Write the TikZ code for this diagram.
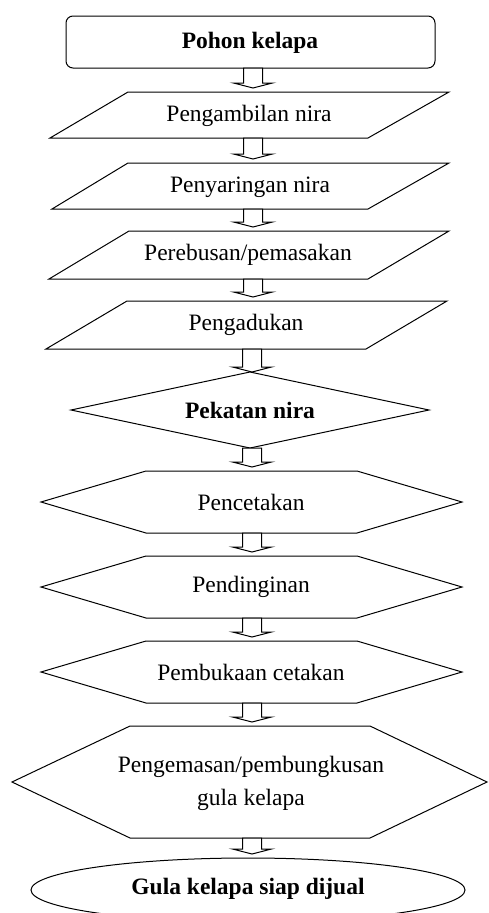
\documentclass[tikz,border=0pt]{standalone}
\usepackage{fontspec}
\setmainfont{Liberation Serif}
\usetikzlibrary{calc}
\tikzset{
  shapeline/.style={draw=black, line width=1pt, line join=miter},
  lbl/.style={font=\fontsize{23.5}{33}\selectfont, align=center, inner sep=0pt},
  blbl/.style={lbl, font=\fontsize{23.5}{33}\selectfont\bfseries},
  blkarrow/.style={draw=black, line width=1pt, fill=white, line join=miter},
}
\newcommand\blkarr[2]{%
  \draw[blkarrow] let \p1=(#1), \p2=(#2) in
    (\x1-9.5pt,\y1) -- (\x1-9.5pt,\y2+9pt) -- (\x1-19.5pt,\y2+9pt) -- (\x1,\y2+4pt)
    -- (\x1+19.5pt,\y2+9pt) -- (\x1+9.5pt,\y2+9pt) -- (\x1+9.5pt,\y1) -- cycle;}
\begin{document}
\begin{tikzpicture}[x=1pt,y=-1pt]
\useasboundingbox (0,0) rectangle (488,913);
\clip (-1,-1) rectangle (489,914);
% start box
\draw[shapeline, rounded corners=7pt] (66,16) rectangle (435,68);
\node[blbl] (n0) at (250,43) {Pohon kelapa};
\coordinate (s0b) at (253,68);
% parallelograms
\draw[shapeline] (128,92) -- (449,92) -- (368,138) -- (50,138) -- cycle;
\node[lbl] (n1) at (249,116) {Pengambilan nira};
\coordinate (s1t) at (253,92); \coordinate (s1b) at (253,138);
\draw[shapeline] (128,163) -- (449,163) -- (368,209) -- (52,209) -- cycle;
\node[lbl] (n2) at (250,187) {Penyaringan nira};
\coordinate (s2t) at (253,163); \coordinate (s2b) at (253,209);
\draw[shapeline] (129,231) -- (449,231) -- (368,279) -- (49,279) -- cycle;
\node[lbl] (n3) at (248,255) {Perebusan/pemasakan};
\coordinate (s3t) at (253,231); \coordinate (s3b) at (253,279);
\draw[shapeline] (127,301) -- (447,301) -- (366,349) -- (46,349) -- cycle;
\node[lbl] (n4) at (246,325) {Pengadukan};
\coordinate (s4t) at (253,301); \coordinate (s4b) at (252,349);
% diamond
\draw[shapeline] (250,372) -- (429,410) -- (250,448) -- (71,410) -- cycle;
\node[blbl] (n5) at (250,410) {Pekatan nira};
\coordinate (s5t) at (252,376); \coordinate (s5b) at (252,448);
% hexagons
\draw[shapeline] (146,471) -- (357,471) -- (462,502) -- (357,533) -- (146,533) -- (41,502) -- cycle;
\node[lbl] (n6) at (251,502) {Pencetakan};
\coordinate (s6t) at (252,471); \coordinate (s6b) at (252,533);
\draw[shapeline] (146,556) -- (357,556) -- (462,587) -- (357,618) -- (146,618) -- (41,587) -- cycle;
\node[lbl] (n7) at (251,587) {Pendinginan};
\coordinate (s7t) at (252,556); \coordinate (s7b) at (252,618);
\draw[shapeline] (146,641) -- (357,641) -- (462,672) -- (357,703) -- (146,703) -- (41,672) -- cycle;
\node[lbl] (n8) at (251,672) {Pembukaan cetakan};
\coordinate (s8t) at (252,641); \coordinate (s8b) at (252,703);
\draw[shapeline] (130,726) -- (370,726) -- (487,782) -- (370,838) -- (130,838) -- (12,782) -- cycle;
\node[lbl] (n9) at (251,783) {Pengemasan/pembungkusan\\gula kelapa};
\coordinate (s9t) at (252,726); \coordinate (s9b) at (252,838);
% ellipse
\draw[shapeline] (248,890) ellipse [x radius=217, y radius=32];
\node[blbl] (n10) at (248,889) {Gula kelapa siap dijual};
\coordinate (s10t) at (252,858);
% arrows
\blkarr{s0b}{s1t}
\blkarr{s1b}{s2t}
\blkarr{s2b}{s3t}
\blkarr{s3b}{s4t}
\blkarr{s4b}{s5t}
\blkarr{s5b}{s6t}
\blkarr{s6b}{s7t}
\blkarr{s7b}{s8t}
\blkarr{s8b}{s9t}
\blkarr{s9b}{s10t}
\end{tikzpicture}
\end{document}
